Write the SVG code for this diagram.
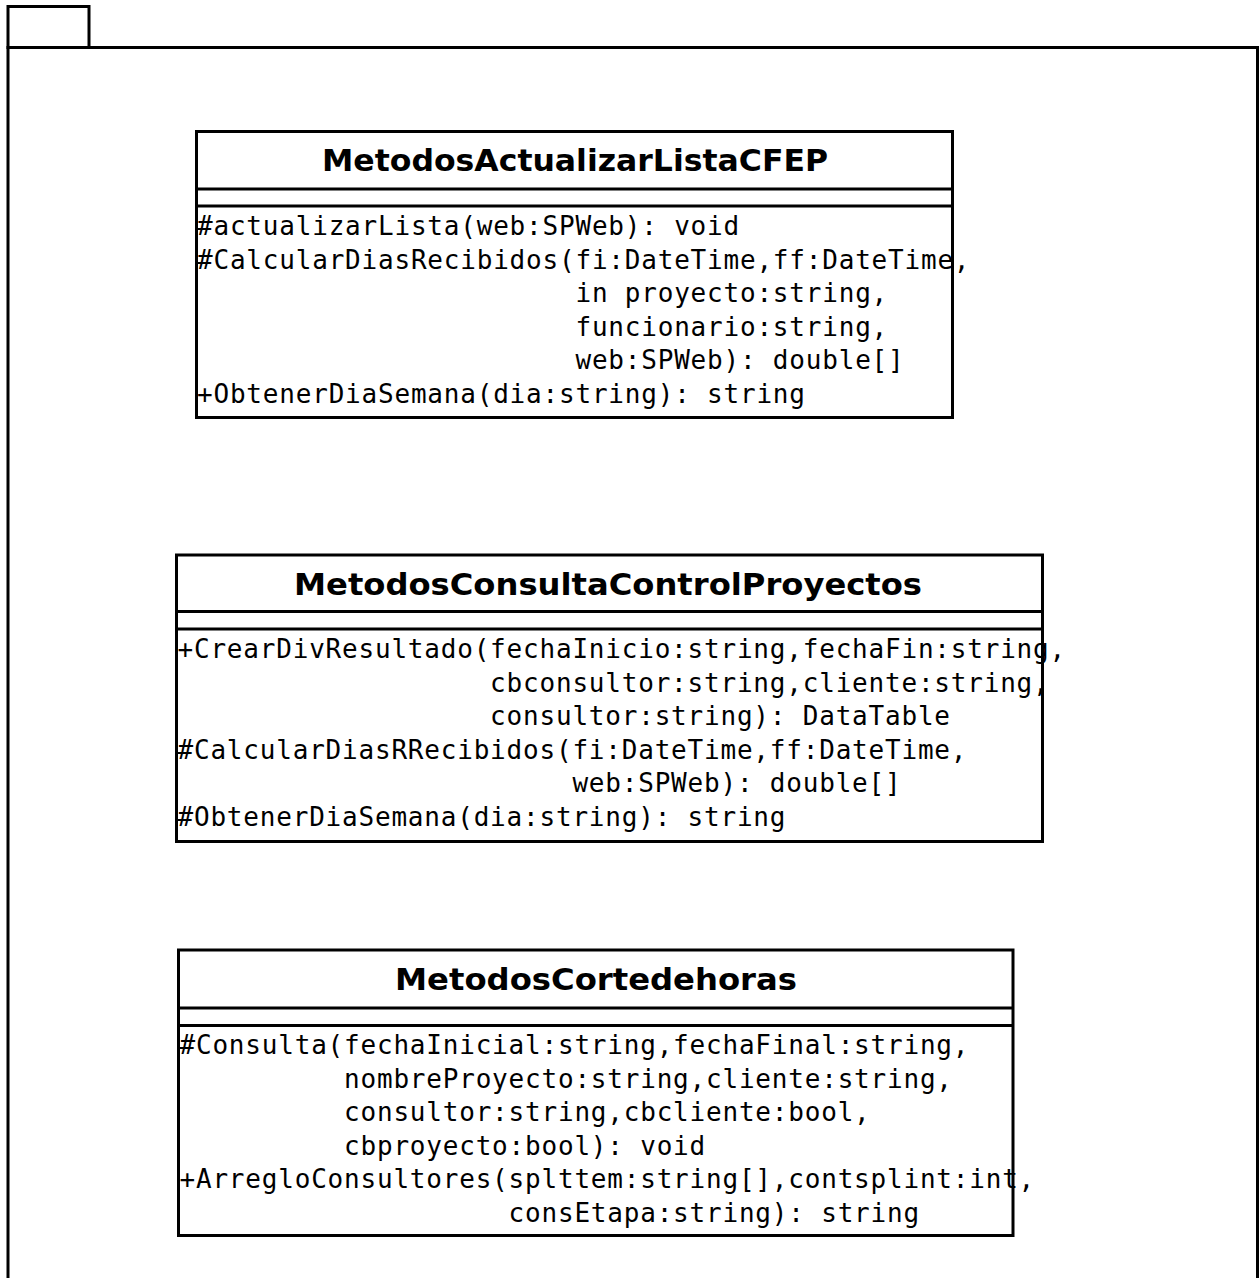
<svg xmlns="http://www.w3.org/2000/svg" width="1260" height="1278" viewBox="0 0 1260 1278">
<style>
.frame{fill:#fff;stroke:#000;stroke-width:3}
.box{fill:#fff;stroke:#000;stroke-width:3}
.sep{stroke:#000;stroke-width:3}
.title{font-family:"DejaVu Sans","Liberation Sans",sans-serif;font-weight:bold;font-size:30px;fill:#000;text-anchor:middle}
.m{font-family:"DejaVu Sans Mono","Liberation Mono",monospace;font-size:26px;letter-spacing:0.8px;fill:#000;white-space:pre}
</style>
<rect width="1260" height="1278" fill="#fff"/>
<g id="package">
<rect class="frame" x="8" y="6.5" width="81" height="41"/>
<rect class="frame" x="8" y="47.5" width="1249.5" height="1240"/>
</g>
<g id="connectors"></g>
<g id="MetodosActualizarListaCFEP">
<rect class="box" x="196.5" y="131.5" width="756" height="286"/>
<line class="sep" x1="196.5" y1="189" x2="952.5" y2="189"/>
<line class="sep" x1="196.5" y1="206" x2="952.5" y2="206"/>
<text class="title" x="575" y="170.5" textLength="506" lengthAdjust="spacingAndGlyphs">MetodosActualizarListaCFEP</text>
<text class="m" xml:space="preserve" x="197" y="235">#actualizarLista(web:SPWeb): void</text>
<text class="m" xml:space="preserve" x="197" y="268.6">#CalcularDiasRecibidos(fi:DateTime,ff:DateTime,</text>
<text class="m" xml:space="preserve" x="197" y="302.2">                       in proyecto:string,</text>
<text class="m" xml:space="preserve" x="197" y="335.8">                       funcionario:string,</text>
<text class="m" xml:space="preserve" x="197" y="369.4">                       web:SPWeb): double[]</text>
<text class="m" xml:space="preserve" x="197" y="403">+ObtenerDiaSemana(dia:string): string</text>
</g>
<g id="MetodosConsultaControlProyectos">
<rect class="box" x="176.5" y="555" width="866" height="286.5"/>
<line class="sep" x1="176.5" y1="611.5" x2="1042.5" y2="611.5"/>
<line class="sep" x1="176.5" y1="629" x2="1042.5" y2="629"/>
<text class="title" x="608" y="594.5" textLength="628" lengthAdjust="spacingAndGlyphs">MetodosConsultaControlProyectos</text>
<text class="m" xml:space="preserve" x="177.5" y="658">+CrearDivResultado(fechaInicio:string,fechaFin:string,</text>
<text class="m" xml:space="preserve" x="177.5" y="691.6">                   cbconsultor:string,cliente:string,</text>
<text class="m" xml:space="preserve" x="177.5" y="725.2">                   consultor:string): DataTable</text>
<text class="m" xml:space="preserve" x="177.5" y="758.8">#CalcularDiasRRecibidos(fi:DateTime,ff:DateTime,</text>
<text class="m" xml:space="preserve" x="177.5" y="792.4">                        web:SPWeb): double[]</text>
<text class="m" xml:space="preserve" x="177.5" y="826">#ObtenerDiaSemana(dia:string): string</text>
</g>
<g id="MetodosCortedehoras">
<rect class="box" x="178.5" y="950" width="834.5" height="285.5"/>
<line class="sep" x1="178.5" y1="1008" x2="1013" y2="1008"/>
<line class="sep" x1="178.5" y1="1025.5" x2="1013" y2="1025.5"/>
<text class="title" x="596" y="989.5" textLength="402" lengthAdjust="spacingAndGlyphs">MetodosCortedehoras</text>
<text class="m" xml:space="preserve" x="179.5" y="1054">#Consulta(fechaInicial:string,fechaFinal:string,</text>
<text class="m" xml:space="preserve" x="179.5" y="1087.6">          nombreProyecto:string,cliente:string,</text>
<text class="m" xml:space="preserve" x="179.5" y="1121.2">          consultor:string,cbcliente:bool,</text>
<text class="m" xml:space="preserve" x="179.5" y="1154.8">          cbproyecto:bool): void</text>
<text class="m" xml:space="preserve" x="179.5" y="1188.4">+ArregloConsultores(splttem:string[],contsplint:int,</text>
<text class="m" xml:space="preserve" x="179.5" y="1222">                    consEtapa:string): string</text>
</g>
</svg>
